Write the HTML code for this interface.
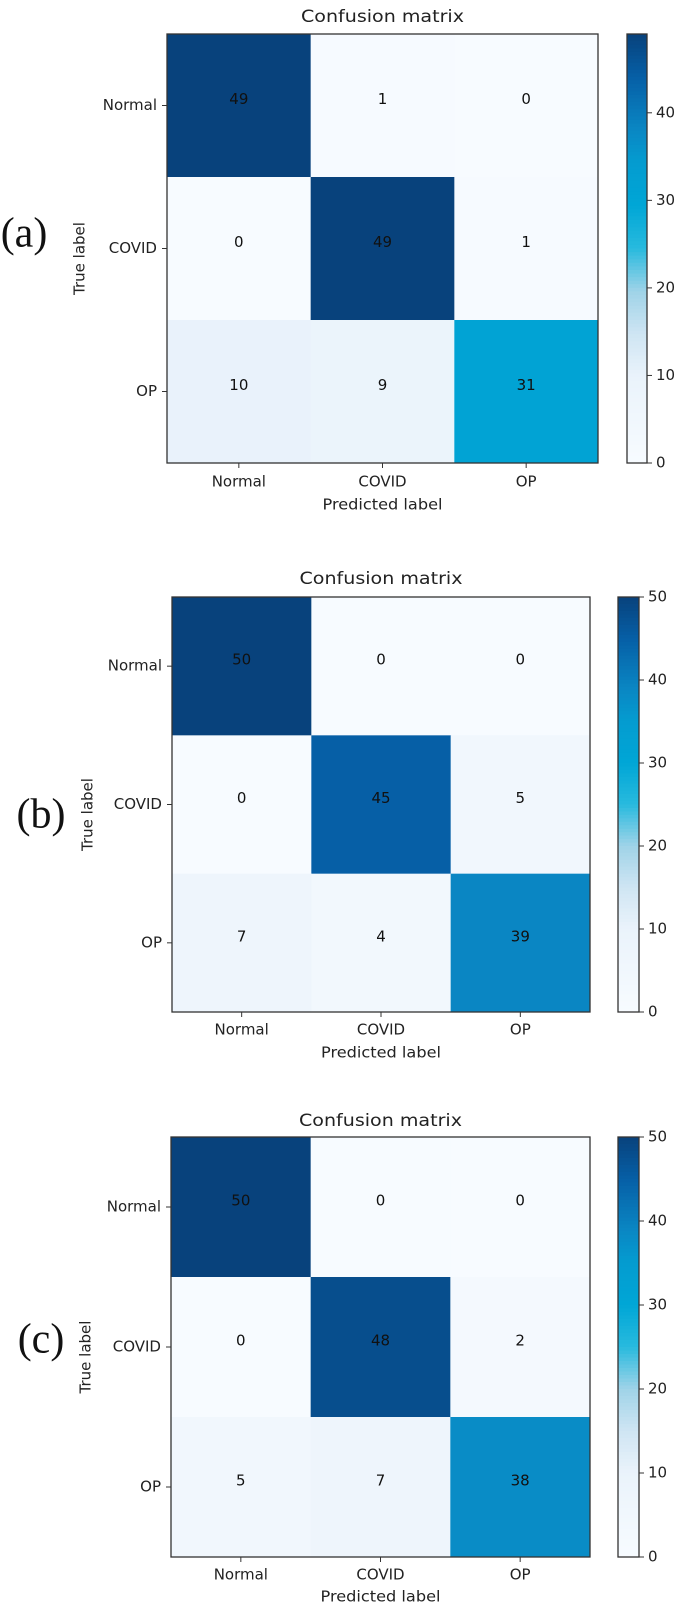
<!DOCTYPE html>
<html><head><meta charset="utf-8"><style>
html,body{margin:0;padding:0;background:#fff;}
svg{display:block;font-family:"DejaVu Sans","Liberation Sans",sans-serif;}
</style></head><body>
<svg id="fig" width="688" height="1608" viewBox="0 0 688 1608"></svg>
<script>
const categories = ["Normal","COVID","OP"];
const matrixA = [[49,1,0],[0,49,1],[10,9,31]];
const matrixB = [[50,0,0],[0,45,5],[7,4,39]];
const matrixC = [[50,0,0],[0,48,2],[5,7,38]];
const ticksA = [0,10,20,30,40];
const ticksB = [0,10,20,30,40,50];
const ticksC = [0,10,20,30,40,50];
const panelLetters = ["(a)","(b)","(c)"];

const NS="http://www.w3.org/2000/svg";
const svg=document.getElementById('fig');
const stops=[[0,[247,251,255]],[0.2,[234,243,251]],[0.3,[207,229,243]],[0.4,[159,211,232]],[0.5,[40,186,222]],[0.6,[0,166,214]],[0.7,[4,156,208]],[0.78,[10,134,195]],[0.9,[6,95,166]],[1,[8,66,124]]];
function cmap(t){t=Math.max(0,Math.min(1,t));for(let i=1;i<stops.length;i++){if(t<=stops[i][0]){const a=stops[i-1],b=stops[i];const f=(t-a[0])/(b[0]-a[0]);const c=a[1].map((v,k)=>Math.round(v+(b[1][k]-v)*f));return `rgb(${c[0]},${c[1]},${c[2]})`;}}return 'rgb(8,66,124)';}
function mk(tag,attrs,parent){const e=document.createElementNS(NS,tag);for(const k in attrs)e.setAttribute(k,attrs[k]);(parent||svg).appendChild(e);return e;}

const panels=[
 {m:matrixA,ticks:ticksA,vmax:49,x0:167,x1:598,y0:34,y1:463,cb0:627,cb1:647,ty:17,xl:482,pl:505,tx:80,lx:24,ly:237,letter:panelLetters[0]},
 {m:matrixB,ticks:ticksB,vmax:50,x0:172,x1:590,y0:597,y1:1012,cb0:618,cb1:639,ty:579,xl:1030,pl:1053,tx:88,lx:41,ly:818,letter:panelLetters[1]},
 {m:matrixC,ticks:ticksC,vmax:50,x0:171,x1:590,y0:1137,y1:1557,cb0:618,cb1:639,ty:1121,xl:1575,pl:1597,tx:86,lx:41,ly:1343,letter:panelLetters[2]}
];

panels.forEach((p,pi)=>{
  const g=mk('g',{});
  
  
  const n=categories.length;
  const cw=(p.x1-p.x0)/n, ch=(p.y1-p.y0)/n;
  const xs=i=>p.x0+i*cw, ys=j=>p.y0+j*ch;
  for(let r=0;r<n;r++)for(let c=0;c<n;c++){
    const v=p.m[r][c];
    const rect=mk('rect',{x:xs(c),y:ys(r),width:cw+0.5,height:ch+0.5,fill:cmap(v/p.vmax)},g);
    
    
    const t=mk('text',{x:xs(c)+cw/2,y:ys(r)+ch/2-6,'text-anchor':'middle','dominant-baseline':'middle','font-size':15,fill:'#111'},g);
    t.textContent=v;
    
    
  }
  const fr=mk('rect',{x:p.x0,y:p.y0,width:p.x1-p.x0,height:p.y1-p.y0,fill:'none',stroke:'#333','stroke-width':1.3},g);
  
  
  categories.forEach((cat,i)=>{
    const cx=xs(i)+cw/2, cy=ys(i)+ch/2;
    mk('line',{x1:cx,x2:cx,y1:p.y1,y2:p.y1+5,stroke:'#333'},g);
    const xt=mk('text',{x:cx,y:p.xl,'text-anchor':'middle','dominant-baseline':'middle','font-size':15,fill:'#222'},g);
    xt.textContent=cat;
    
    
    mk('line',{x1:p.x0-5,x2:p.x0,y1:cy,y2:cy,stroke:'#333'},g);
    const yt=mk('text',{x:p.x0-10,y:cy,'text-anchor':'end','dominant-baseline':'middle','font-size':15,fill:'#222'},g);
    yt.textContent=cat;
    
    
  });
  const title=mk('text',{x:(p.x0+p.x1)/2,y:p.ty,'text-anchor':'middle','dominant-baseline':'middle','font-size':17,fill:'#222',textLength:163,lengthAdjust:'spacingAndGlyphs'},g);
  title.textContent='Confusion matrix';
  
  
  const xa=mk('text',{x:(p.x0+p.x1)/2,y:p.pl,'text-anchor':'middle','dominant-baseline':'middle','font-size':15,fill:'#222',textLength:120,lengthAdjust:'spacingAndGlyphs'},g);
  xa.textContent='Predicted label';
  
  
  const cyc=(p.y0+p.y1)/2+10;
  const ya=mk('text',{x:p.tx,y:cyc,'text-anchor':'middle','dominant-baseline':'middle','font-size':15,fill:'#222',transform:`rotate(-90 ${p.tx} ${cyc})`},g);
  ya.textContent='True label';
  
  
  const lt=mk('text',{x:p.lx,y:p.ly,'text-anchor':'middle','dominant-baseline':'middle','font-size':42,fill:'#111','font-family':'"Liberation Serif",serif'},g);
  lt.textContent=p.letter;
  
  
  const cb=mk('g',{},g);
  
  
  const H=p.y1-p.y0, steps=120;
  for(let k=0;k<steps;k++){
    mk('rect',{x:p.cb0,y:p.y0+k*H/steps,width:p.cb1-p.cb0,height:H/steps+0.6,fill:cmap(1-(k+0.5)/steps)},cb);
  }
  mk('rect',{x:p.cb0,y:p.y0,width:p.cb1-p.cb0,height:H,fill:'none',stroke:'#333','stroke-width':1.3},cb);
  const cy2=v=>p.y1-v/p.vmax*H;
  p.ticks.forEach(v=>{
    mk('line',{x1:p.cb1,x2:p.cb1+5,y1:cy2(v),y2:cy2(v),stroke:'#333'},cb);
    const tt=mk('text',{x:p.cb1+9,y:cy2(v),'dominant-baseline':'middle','font-size':15,fill:'#222'},cb);
    tt.textContent=v;
    
    
  });
});
</script>
</body></html>
